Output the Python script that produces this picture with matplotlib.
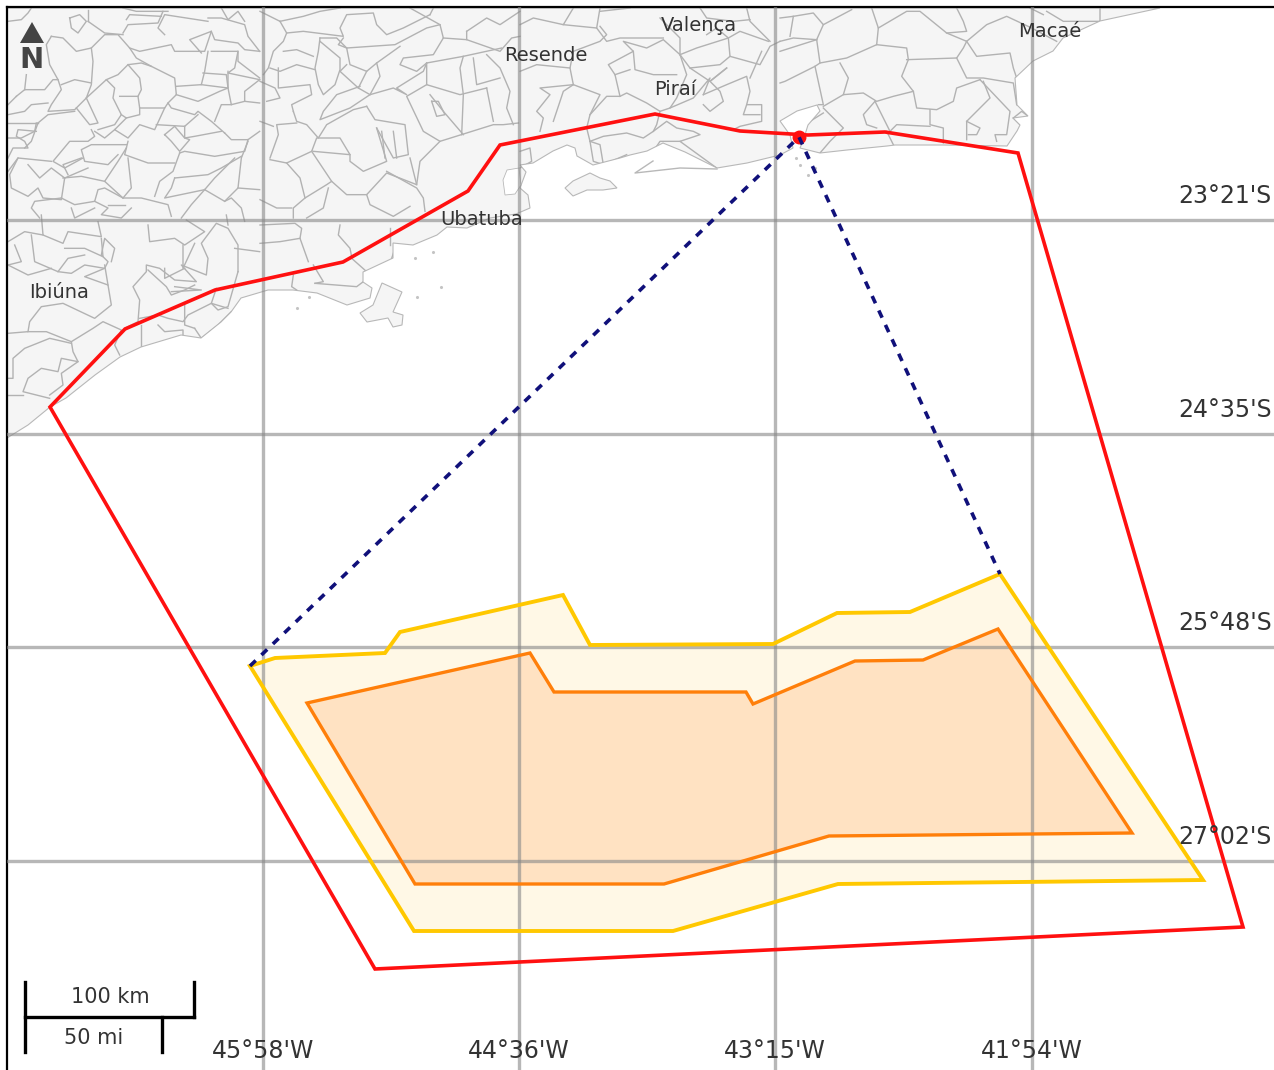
import matplotlib
matplotlib.use("Agg")
import matplotlib.pyplot as plt
from matplotlib.patches import Polygon

# map units (x right, y down)
red_zone = [(50, 407), (125, 329), (215, 290), (343, 262), (468, 191), (500, 145), (655, 114), (740, 131),
            (808, 135), (885, 132), (1018, 153), (1243, 927), (375, 969)]
yellow_zone = [(250, 666), (275, 658), (385, 653), (400, 632), (563, 595), (590, 645), (773, 644), (837, 613),
               (910, 612), (1000, 574), (1203, 880), (838, 884), (673, 931), (414, 931)]
orange_zone = [(307, 703), (530, 653), (554, 692), (746, 692), (753, 704), (855, 661), (923, 660), (998, 629),
               (1132, 833), (829, 836), (664, 884), (415, 884)]
dotted_route = [(250, 666), (799, 137), (1000, 574)]
port = (799, 137)

lon_pos = [263, 519, 775, 1032]
lon_labels = ["45°58'W", "44°36'W", "43°15'W", "41°54'W"]
lat_pos = [220, 434, 647, 861]
lat_labels = ["23°21'S", "24°35'S", "25°48'S", "27°02'S"]

cities = ["Valença", "Resende", "Piraí", "Macaé", "Ubatuba", "Ibiúna"]
city_x = [699, 546, 675, 1050, 482, 59]
city_y = [26, 56, 90, 32, 220, 293]

coast = [(7, 438), (28, 425), (50, 407), (66, 398), (95, 375), (120, 357), (141, 347), (181, 335), (201, 338),
         (221, 322), (231, 312), (241, 298), (268, 290), (293, 290), (317, 293), (347, 305), (370, 298),
         (372, 288), (363, 282), (363, 272), (393, 258), (393, 243), (413, 245), (437, 235), (447, 227),
         (467, 228), (490, 218), (516, 214), (530, 208), (528, 195), (520, 188), (526, 172), (520, 165),
         (533, 163), (553, 151), (567, 145), (575, 148), (577, 156), (593, 165), (620, 158), (630, 155),
         (647, 151), (663, 143), (685, 152), (717, 168), (747, 163), (780, 155), (793, 148), (790, 135),
         (780, 121), (797, 111), (817, 105), (820, 111), (808, 125), (803, 141), (800, 148), (820, 153),
         (847, 150), (887, 146), (895, 145), (943, 145), (1007, 146), (1017, 131), (1020, 125), (1013, 118),
         (1028, 116), (1017, 105), (1015, 78), (1033, 61), (1053, 51), (1063, 38), (1100, 21), (1160, 8), (7, 8)]
ilhabela = [(360, 313), (373, 305), (382, 283), (402, 292), (393, 312), (403, 315), (402, 325), (393, 327),
            (388, 318), (367, 322)]
ilha_grande = [(565, 188), (573, 181), (590, 173), (600, 178), (610, 181), (617, 188), (603, 190), (587, 190),
               (573, 196)]
sao_seb_hole = [(505, 195), (503, 180), (507, 170), (519, 168), (521, 185), (515, 194)]
sandbar = [(653, 161), (635, 173), (680, 168), (717, 169)]
islets_x = [297, 309, 417, 441, 433, 415, 800, 808, 815, 796]
islets_y = [308, 297, 297, 287, 252, 258, 165, 175, 168, 158]

nw_origin = (8, 8)
nw_borders = [
    [(0, 40), (40, 35), (60, 15), (70, 0)],
    [(130, 85), (165, 90), (205, 130), (250, 120), (290, 80), (330, 80), (365, 120), (395, 130), (490, 110), (500, 130), (590, 130), (610, 70), (545, 95), (580, 135)],
    [(130, 85), (115, 110), (125, 170), (150, 215), (160, 245), (130, 290), (120, 310), (200, 305), (235, 270)],
    [(250, 120), (255, 160), (250, 230), (235, 270), (295, 215), (320, 240), (315, 270), (340, 320), (320, 350), (270, 365)],
    [(205, 300), (245, 350), (270, 345), (235, 270)],
    [(160, 230), (200, 215), (250, 225)],
    [(295, 215), (330, 200), (360, 170), (400, 165), (430, 175), (500, 210), (505, 260), (480, 285), (470, 300), (395, 300), (390, 265), (335, 265)],
    [(360, 170), (395, 210), (400, 245), (390, 265)],
    [(365, 120), (385, 150), (430, 175)],
    [(395, 300), (395, 320), (355, 330), (340, 320)],
    [(355, 330), (320, 365), (360, 390), (395, 350), (440, 365), (470, 300)],
    [(505, 235), (580, 230), (590, 190), (600, 130)],
    [(580, 230), (660, 240), (655, 200), (585, 195)],
    [(505, 260), (570, 280), (635, 250), (660, 240)],
    [(480, 285), (490, 300), (560, 320), (570, 310), (610, 340), (650, 375)],
    [(570, 320), (530, 355), (445, 350)],
    [(530, 355), (530, 390), (560, 385), (640, 370)],
    [(610, 130), (690, 130), (680, 180), (660, 195), (755, 215)],
    [(610, 70), (620, 95), (690, 105), (710, 125), (755, 130)],
    [(690, 130), (690, 160), (755, 210)],
    [(755, 215), (710, 250), (710, 280), (755, 285)],
    [(660, 190), (660, 240), (670, 290), (710, 280)],
    [(620, 340), (640, 290), (670, 290)],
    [(650, 375), (670, 395), (720, 395), (755, 370)],
    [(720, 395), (710, 430), (620, 445), (530, 430), (515, 435)],
    [(470, 380), (500, 355), (530, 390), (545, 395), (515, 430), (490, 400), (470, 380)],
    [(515, 435), (495, 490), (455, 520), (440, 565)],
    [(500, 510), (600, 500), (640, 480), (700, 445)],
    [(500, 510), (490, 540), (470, 570), (590, 545), (620, 510), (680, 450)],
    [(590, 545), (650, 580), (690, 540), (700, 450), (720, 400)],
    [(590, 545), (550, 590), (520, 630)],
    [(690, 540), (755, 545)],
    [(650, 580), (670, 570), (700, 600), (710, 640)],
    [(360, 400), (350, 440), (420, 465), (500, 465)],
    [(360, 450), (370, 540), (345, 570), (290, 520), (330, 460), (355, 420)],
    [(355, 410), (250, 410), (220, 425), (230, 460), (300, 470), (330, 440)],
    [(260, 370), (290, 390), (320, 365)],
    [(90, 345), (120, 320), (200, 310)],
    [(90, 345), (70, 400), (50, 420)],
    [(250, 365), (260, 385), (240, 400), (185, 400), (135, 460), (170, 480), (225, 450)],
    [(130, 460), (30, 450), (0, 490)],
    [(30, 450), (5, 500), (10, 540), (60, 565), (90, 540), (105, 570), (160, 575), (170, 510), (130, 480), (95, 510), (60, 470)],
    [(165, 510), (220, 505), (290, 520)],
    [(160, 570), (200, 590), (260, 580), (270, 545), (290, 540), (345, 570)],
    [(160, 570), (80, 580), (70, 600), (95, 630)],
    [(345, 570), (400, 570), (480, 590), (490, 625)],
    [(260, 580), (300, 600), (280, 620), (340, 630), (370, 600)],
    [(300, 590), (350, 590)],
    [(190, 600), (200, 630), (260, 600)],
    [(0, 390), (40, 390), (80, 370), (85, 345)],
    [(0, 345), (50, 345), (90, 345)],
    [(0, 320), (50, 310), (70, 290), (120, 285)],
    [(25, 265), (50, 245), (110, 245), (135, 215), (150, 215)],
    [(0, 290), (25, 265)],
    [(50, 245), (55, 200)],
    [(470, 80), (450, 60), (470, 20), (600, 40)],
    [(345, 75), (360, 50), (450, 45), (465, 10)],
    [(240, 40), (290, 75), (345, 80)],
    [(240, 40), (240, 5)],
    [(355, 35), (365, 20), (460, 25)],
    [(600, 30), (640, 30), (710, 50), (720, 85), (755, 130)],
    [(640, 0), (660, 35), (690, 10), (710, 40)],
    [(345, 0), (385, 10), (480, 10)],
    [(185, 30), (215, 20), (235, 40), (210, 75), (190, 60), (185, 30)],
    [(180, 500), (165, 470), (220, 450)],
    [(170, 510), (240, 480)],
    [(0, 450), (15, 420), (60, 420), (50, 400), (25, 385), (30, 365), (85, 370)],
]

north_origin = (260, 8)
north_borders = [
    [(60, 40), (130, 25), (180, 10), (240, 0)],
    [(60, 40), (80, 75), (130, 70), (250, 85), (240, 60), (260, 20), (340, 15), (350, 50), (380, 80), (430, 60), (510, 20)],
    [(80, 75), (70, 100), (40, 130), (25, 180), (10, 200)],
    [(30, 180), (60, 190), (110, 170), (165, 185)],
    [(180, 90), (175, 130), (165, 180), (175, 230), (190, 260), (225, 230), (240, 185), (240, 150), (180, 100)],
    [(70, 130), (110, 125), (160, 145)],
    [(55, 180), (55, 240), (150, 230), (155, 260), (95, 290), (100, 310)],
    [(0, 220), (45, 240), (60, 270), (20, 280)],
    [(250, 90), (235, 110), (260, 120), (405, 110), (500, 60), (540, 50), (550, 90), (520, 140), (430, 150), (420, 170), (470, 190), (500, 165)],
    [(180, 90), (230, 90), (260, 120)],
    [(260, 120), (270, 170), (320, 190), (350, 165), (420, 115)],
    [(320, 190), (295, 240), (240, 190), (260, 170)],
    [(350, 165), (360, 205), (330, 260), (295, 240)],
    [(330, 260), (270, 300), (180, 335), (190, 310), (230, 260), (300, 235)],
    [(330, 260), (400, 240), (440, 260), (410, 240), (490, 190), (500, 165), (610, 145), (725, 120)],
    [(610, 145), (600, 180), (610, 260), (605, 380)],
    [(500, 165), (500, 230), (600, 260), (680, 240)],
    [(500, 230), (440, 265), (490, 370), (540, 400), (700, 350), (730, 350), (775, 345)],
    [(680, 140), (720, 180), (750, 250), (740, 300), (760, 350)],
    [(640, 150), (650, 230), (720, 210)],
    [(680, 240), (700, 340)],
    [(510, 260), (550, 310), (610, 380)],
    [(515, 280), (535, 280), (555, 320), (530, 325), (515, 280)],
    [(320, 295), (345, 335), (435, 350), (445, 440), (400, 450), (350, 360)],
    [(365, 370), (375, 450)],
    [(400, 370), (410, 450)],
    [(320, 295), (280, 305), (200, 350), (175, 390), (140, 350), (110, 340), (100, 310)],
    [(110, 345), (50, 350), (55, 380), (30, 450)],
    [(0, 340), (40, 355)],
    [(30, 455), (80, 465), (155, 430), (170, 390), (240, 390), (270, 440), (160, 430)],
    [(270, 440), (270, 460), (310, 490), (380, 460), (350, 360)],
    [(80, 465), (120, 510), (135, 570), (200, 530), (215, 520), (260, 560), (320, 560), (380, 495), (470, 530), (460, 490), (450, 450)],
    [(380, 490), (470, 540), (490, 570), (495, 610)],
    [(155, 430), (215, 520)],
    [(135, 570), (100, 600), (100, 630)],
    [(205, 540), (190, 600), (140, 630)],
    [(0, 575), (50, 600), (95, 600)],
    [(320, 560), (330, 590), (370, 610), (400, 625), (450, 595)],
    [(470, 530), (480, 460), (540, 400)],
    [(0, 10), (60, 40)],
    [(510, 20), (520, 0)],
    [(620, 70), (620, 95), (720, 130), (755, 90), (780, 85)],
    [(620, 70), (680, 30), (720, 50), (780, 10)],
    [(550, 90), (620, 95)],
    [(450, 0), (540, 50)],
]

centre_origin = (520, 8)
centre_borders = [
    [(0, 50), (40, 30), (130, 50), (160, 0)],
    [(130, 50), (230, 60), (240, 0)],
    [(230, 60), (260, 100), (300, 90), (430, 90)],
    [(240, 10), (330, 0)],
    [(0, 190), (50, 170), (150, 180), (160, 130), (240, 100), (260, 80), (240, 55)],
    [(150, 180), (160, 230), (60, 240), (90, 260), (50, 310), (70, 330), (60, 370)],
    [(160, 230), (130, 250), (100, 340)],
    [(160, 230), (240, 260), (210, 320), (200, 360), (210, 400), (240, 410), (250, 470)],
    [(210, 320), (260, 265), (300, 265), (320, 255), (380, 285), (420, 310), (410, 350), (400, 370), (370, 390), (320, 375), (250, 385), (210, 400)],
    [(300, 265), (285, 200), (265, 170), (340, 130), (310, 100), (380, 120), (430, 95), (480, 140), (500, 200), (470, 270), (450, 300), (420, 310)],
    [(340, 130), (345, 185), (400, 200), (470, 200)],
    [(285, 200), (330, 185)],
    [(480, 140), (510, 180), (600, 170), (630, 145), (720, 170), (750, 115), (780, 100)],
    [(630, 145), (625, 90), (660, 70), (745, 100)],
    [(480, 140), (480, 90), (420, 30)],
    [(480, 140), (530, 120), (625, 90), (590, 60), (560, 80)],
    [(510, 180), (570, 220), (620, 180)],
    [(550, 260), (570, 210), (520, 270), (450, 300)],
    [(620, 180), (570, 220), (600, 250), (610, 280), (570, 310), (550, 290)],
    [(550, 260), (620, 230), (680, 205), (690, 250), (680, 290), (725, 290), (725, 340), (660, 355), (640, 365)],
    [(725, 130), (690, 210)],
    [(680, 290), (670, 320), (720, 320)],
    [(400, 370), (440, 340), (470, 360), (520, 370), (540, 380), (480, 400), (590, 480)],
    [(480, 400), (420, 400), (410, 415)],
    [(0, 430), (30, 420), (35, 460), (0, 480)],
    [(210, 400), (220, 460), (250, 470), (320, 440)],
    [(680, 0), (690, 40), (750, 100)],
    [(540, 0), (560, 30), (640, 40), (690, 35)],
]

east_origin = (780, 8)
east_borders = [
    [(40, 25), (30, 85)],
    [(0, 30), (40, 25), (100, 15), (130, 50), (215, 5)],
    [(130, 50), (110, 95), (120, 165), (105, 175), (15, 220), (0, 225)],
    [(120, 165), (200, 150), (290, 110), (295, 60), (275, 0)],
    [(290, 110), (380, 120), (385, 155), (365, 205), (400, 250), (410, 300), (470, 305), (520, 280), (530, 240), (600, 215)],
    [(295, 60), (380, 10), (420, 10), (500, 75), (560, 70), (550, 40), (530, 0)],
    [(380, 155), (530, 150), (550, 120), (560, 100), (500, 75)],
    [(560, 100), (590, 145), (690, 135), (700, 180), (710, 210)],
    [(530, 150), (560, 210), (610, 210), (700, 225), (710, 290)],
    [(600, 215), (690, 310), (680, 380), (645, 380), (650, 400)],
    [(610, 220), (630, 270), (560, 340), (560, 395)],
    [(560, 340), (600, 360), (590, 380), (565, 380)],
    [(400, 250), (340, 265), (290, 280), (250, 255), (190, 260), (205, 210), (180, 165)],
    [(190, 260), (130, 295)],
    [(105, 175), (130, 290), (115, 290)],
    [(285, 280), (320, 350), (330, 370)],
    [(285, 280), (250, 320), (260, 350), (290, 360)],
    [(450, 305), (450, 350), (490, 360), (490, 405)],
    [(330, 370), (350, 350), (450, 355)],
    [(130, 300), (190, 360), (150, 400), (120, 435)],
    [(90, 340), (130, 315)],
    [(320, 370), (340, 410)],
    [(700, 330), (725, 310), (745, 325), (720, 350), (700, 330)],
    [(560, 100), (620, 50), (680, 25), (755, 60), (830, 100)],
    [(800, 10), (850, 40), (960, 40), (960, 0)],
    [(750, 0), (790, 20)],
    [(0, 130), (110, 95)],
    [(110, 95), (40, 90), (0, 100)],
]

south_origin = (8, 215)
south_borders = [
    [(100, 0), (105, 60), (165, 85), (180, 50), (280, 65), (270, 20)],
    [(0, 80), (50, 50), (105, 60)],
    [(0, 150), (40, 140), (20, 90)],
    [(70, 60), (80, 140), (150, 170), (180, 130), (230, 120)],
    [(150, 170), (190, 175), (230, 150), (290, 160), (300, 140), (280, 120), (290, 70), (320, 100), (310, 140)],
    [(280, 70), (285, 125), (230, 100), (170, 100)],
    [(290, 160), (230, 185), (300, 210), (310, 270), (260, 310), (165, 265), (100, 275), (65, 320), (60, 350), (0, 355)],
    [(0, 150), (60, 180), (130, 160)],
    [(300, 210), (290, 150)],
    [(60, 350), (115, 350), (190, 380), (195, 410), (210, 440), (160, 430), (150, 470), (100, 460), (60, 490), (45, 530), (125, 550)],
    [(190, 380), (255, 340), (285, 320), (340, 345), (320, 390), (335, 420)],
    [(190, 385), (125, 370), (50, 400), (15, 430), (15, 490), (0, 490)],
    [(210, 440), (160, 475), (165, 510), (125, 540)],
    [(0, 540), (45, 540)],
    [(350, 340), (390, 320), (395, 255), (375, 215), (415, 170), (415, 150), (455, 160), (500, 195), (565, 200), (520, 150), (595, 180), (600, 130), (580, 85), (625, 25), (660, 40), (690, 90), (690, 170)],
    [(680, 100), (755, 110)],
    [(420, 30), (425, 80), (500, 70), (530, 90), (590, 50), (535, 15)],
    [(525, 90), (525, 160), (560, 85)],
    [(625, 220), (610, 265), (630, 285), (660, 275), (690, 170)],
    [(420, 165), (475, 215), (490, 240), (530, 225), (560, 210)],
    [(470, 160), (470, 190), (530, 160)],
    [(490, 230), (580, 225), (500, 215)],
    [(395, 310), (450, 300), (480, 310), (525, 320), (540, 300), (610, 265), (660, 280)],
    [(400, 330), (400, 395)],
    [(450, 330), (470, 350), (525, 345), (525, 360)],
    [(560, 340), (580, 370), (630, 330), (670, 290)],
    [(530, 270), (530, 330), (560, 340)],
    [(660, 30), (655, 0)],
]

bay_origin = (260, 215)
bay_borders = [
    [(0, 30), (105, 25), (125, 40), (120, 70), (145, 140)],
    [(0, 85), (60, 80), (120, 70)],
    [(240, 30), (235, 60), (270, 100), (275, 125)],
    [(160, 150), (190, 200), (165, 205)],
    [(100, 180), (95, 215), (110, 225)],
    [(165, 205), (290, 215), (310, 200)],
    [(275, 130), (320, 170)],
    [(405, 100), (395, 130)],
    [(390, 90), (390, 40)],
]

fig = plt.figure(figsize=(12.74, 10.7), dpi=100)
ax = fig.add_axes([7 / 1274, 0, 1267 / 1274, 1063 / 1070])
ax.set_xlim(7, 1274)
ax.set_ylim(1070, 7)
ax.set_xticks([])
ax.set_yticks([])
for side in ["right", "bottom"]:
    ax.spines[side].set_visible(False)
for side in ["left", "top"]:
    ax.spines[side].set_linewidth(1.6)

# land, then the municipal borders clipped to it
land = Polygon(coast, closed=True, facecolor="#f5f5f5", edgecolor="#b8b8b8", linewidth=0.8, zorder=1)
ax.add_patch(land)
tiles = [(nw_borders, nw_origin), (north_borders, north_origin), (centre_borders, centre_origin),
         (east_borders, east_origin), (south_borders, south_origin), (bay_borders, bay_origin)]
for lines, origin in tiles:
    for b in lines:
        xs = [origin[0] + p[0] / 3 for p in b]
        ys = [origin[1] + p[1] / 3 for p in b]
        line, = ax.plot(xs, ys, color="#b2b2b2", linewidth=1.0, zorder=1.5)
        line.set_clip_path(land)
for isl in [ilhabela, ilha_grande]:
    ax.add_patch(Polygon(isl, closed=True, facecolor="#f5f5f5", edgecolor="#b8b8b8", linewidth=0.8, zorder=1))
ax.add_patch(Polygon(sao_seb_hole, closed=True, facecolor="white", edgecolor="#b8b8b8", linewidth=0.6, zorder=1.6))
ax.plot([p[0] for p in sandbar], [p[1] for p in sandbar], color="#b8b8b8", linewidth=1.0, zorder=1.6)
ax.scatter(islets_x, islets_y, s=5, color="#c4c4c4", linewidths=0, zorder=1.6)

# zones
ax.add_patch(Polygon(yellow_zone, closed=True, facecolor="#fff8e6", edgecolor="none", zorder=2))
ax.add_patch(Polygon(orange_zone, closed=True, facecolor="#ffe2c2", edgecolor="none", zorder=2.1))

# graticule
for x in lon_pos:
    ax.axvline(x, color="#888888", alpha=0.6, linewidth=2.4, zorder=3)
for y in lat_pos:
    ax.axhline(y, color="#888888", alpha=0.6, linewidth=2.4, zorder=3)

ax.add_patch(Polygon(yellow_zone, closed=True, facecolor="none", edgecolor="#ffc800", linewidth=2.8, zorder=4))
ax.add_patch(Polygon(orange_zone, closed=True, facecolor="none", edgecolor="#ff7f0a", linewidth=2.4, zorder=4.1))
ax.add_patch(Polygon(red_zone, closed=True, facecolor="none", edgecolor="#ff1010", linewidth=2.6, zorder=4.2))
ax.plot([p[0] for p in dotted_route], [p[1] for p in dotted_route], color="#10107a", linewidth=2.6,
        linestyle=(0, (2.2, 2.2)), zorder=4.3)
ax.plot([port[0]], [port[1]], marker="o", markersize=9, color="#ff1010", zorder=4.25)

# labels
for name, x, y in zip(cities, city_x, city_y):
    ax.text(x, y, name, ha="center", va="center", fontsize=14, color="#333333", zorder=5)
for lab, x in zip(lon_labels, lon_pos):
    ax.text(x, 1051, lab, ha="center", va="center", fontsize=17, color="#333333", zorder=5)
for lab, y in zip(lat_labels, lat_pos):
    ax.text(1272, y - 24, lab, ha="right", va="center", fontsize=17, color="#333333", zorder=5)

# scale bar
ax.plot([25, 194], [1017, 1017], color="black", linewidth=2.4, zorder=5)
ax.plot([25, 25], [982, 1052], color="black", linewidth=2.4, zorder=5)
ax.plot([194, 194], [982, 1017], color="black", linewidth=2.4, zorder=5)
ax.plot([162, 162], [1017, 1052], color="black", linewidth=2.4, zorder=5)
ax.text(110, 997, "100 km", ha="center", va="center", fontsize=15, color="#333333", zorder=5)
ax.text(94, 1038, "50 mi", ha="center", va="center", fontsize=15, color="#333333", zorder=5)

# north arrow
ax.add_patch(Polygon([(20, 43), (44, 43), (32, 22)], closed=True, facecolor="#444444", edgecolor="none", zorder=5))
ax.text(32, 60, "N", ha="center", va="center", fontsize=21, fontweight="bold", color="#444444", zorder=5)

fig.savefig("out.png", dpi=100)
